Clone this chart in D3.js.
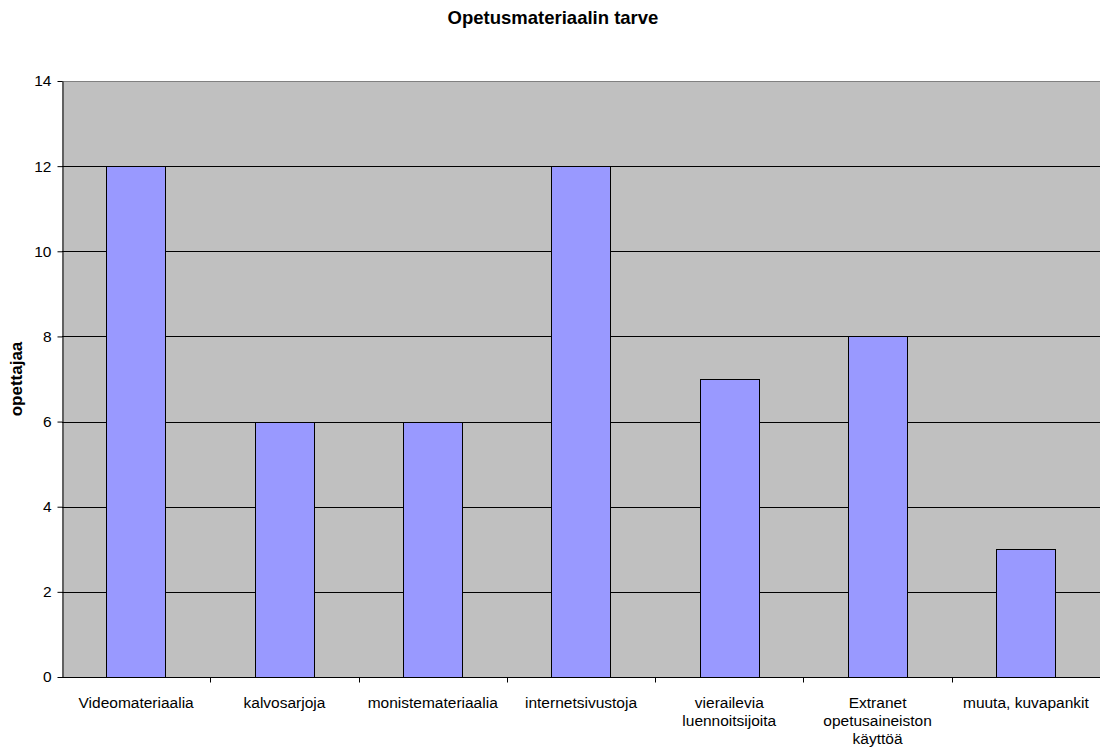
<!DOCTYPE html>
<html>
<head>
<meta charset="utf-8">
<script src="https://cdn.jsdelivr.net/npm/d3@7"></script>
<style>
  body { margin: 0; background: #fff; }
  svg { display: block; font-family: "Liberation Sans", Arial, sans-serif; }
</style>
</head>
<body>
<svg id="chart" width="1100" height="754"></svg>
<script>
const title = 'Opetusmateriaalin tarve';
const yTitle = 'opettajaa';
const categories = [
  ['Videomateriaalia'],
  ['kalvosarjoja'],
  ['monistemateriaalia'],
  ['internetsivustoja'],
  ['vierailevia', 'luennoitsijoita'],
  ['Extranet', 'opetusaineiston', 'käyttöä'],
  ['muuta, kuvapankit']
];
const values = [12, 6, 6, 12, 7, 8, 3];
const yTicks = [0, 2, 4, 6, 8, 10, 12, 14];

const svg = d3.select('#chart'),
  margin = { top: 81, right: 0, bottom: 77, left: 62 };
const inner = {
  width: 1100 - margin.left - margin.right,
  height: 754 - margin.top - margin.bottom
};

const g = svg.append('g')
  .attr('transform', `translate(${margin.left},${margin.top})`);

const keys = categories.map((c, i) => i);
const x = d3.scaleBand()
  .domain(keys)
  .range([0, inner.width])
  .paddingInner(0.6)
  .paddingOuter(0.3);
const step = inner.width / keys.length;

const y = d3.scaleLinear()
  .domain([0, 14])
  .range([inner.height, 0]);

// plot background
g.append('rect')
  .attr('width', inner.width)
  .attr('height', inner.height)
  .attr('fill', '#c0c0c0');

// gridlines
g.selectAll('.grid')
  .data(yTicks.filter(d => d > 0))
  .enter().append('line')
  .attr('x1', 0)
  .attr('x2', inner.width)
  .attr('y1', d => Math.round(y(d)) + 0.5)
  .attr('y2', d => Math.round(y(d)) + 0.5)
  .attr('stroke', d => d === 14 ? '#808080' : '#000')
  .attr('stroke-width', 1);

// bars
g.selectAll('.bar')
  .data(values)
  .enter().append('rect')
  .attr('class', 'bar')
  .attr('x', (d, i) => Math.round(x(i)) + 0.5)
  .attr('y', d => Math.round(y(d)) + 0.5)
  .attr('width', Math.round(x.bandwidth()))
  .attr('height', d => Math.round(y(0)) - Math.round(y(d)))
  .attr('fill', '#9999ff')
  .attr('stroke', '#000')
  .attr('stroke-width', 1);

// y axis
const yAxis = g.append('g')
  .attr('transform', 'translate(0.5,0)')
  .call(d3.axisLeft(y).tickValues(yTicks).tickSize(5).tickPadding(6).tickSizeOuter(0));
yAxis.select('.domain').attr('stroke', '#000');
yAxis.selectAll('.tick line').attr('stroke', '#000');
yAxis.selectAll('.tick text')
  .attr('fill', '#000')
  .style('font-size', '15.5px')
  .style('font-family', '"Liberation Sans", Arial, sans-serif');

// x axis line and boundary ticks
const xb = g.append('g')
  .attr('transform', `translate(0,${Math.round(inner.height) + 0.5})`);
xb.append('line')
  .attr('x1', 0).attr('x2', inner.width)
  .attr('stroke', '#000');
xb.selectAll('.bt')
  .data(d3.range(1, keys.length))
  .enter().append('line')
  .attr('x1', d => Math.round(d * step) + 0.5)
  .attr('x2', d => Math.round(d * step) + 0.5)
  .attr('y1', 0).attr('y2', 5)
  .attr('stroke', '#000');

// category labels
const lab = xb.selectAll('.lab')
  .data(categories)
  .enter().append('text')
  .attr('text-anchor', 'middle')
  .attr('transform', (d, i) => `translate(${x(i) + x.bandwidth() / 2},30)`)
  .style('font-size', '15.5px')
  .attr('fill', '#000');
lab.selectAll('tspan')
  .data(d => d)
  .enter().append('tspan')
  .attr('x', 0)
  .attr('y', (d, i) => i * 18)
  .text(d => d);

// title
svg.append('text')
  .attr('x', 553)
  .attr('y', 24)
  .attr('text-anchor', 'middle')
  .style('font-size', '18.5px')
  .style('font-weight', 'bold')
  .text(title);

// y title
svg.append('text')
  .attr('transform', `translate(22,${margin.top + inner.height / 2}) rotate(-90)`)
  .attr('text-anchor', 'middle')
  .style('font-size', '17px')
  .style('font-weight', 'bold')
  .text(yTitle);
</script>
</body>
</html>
